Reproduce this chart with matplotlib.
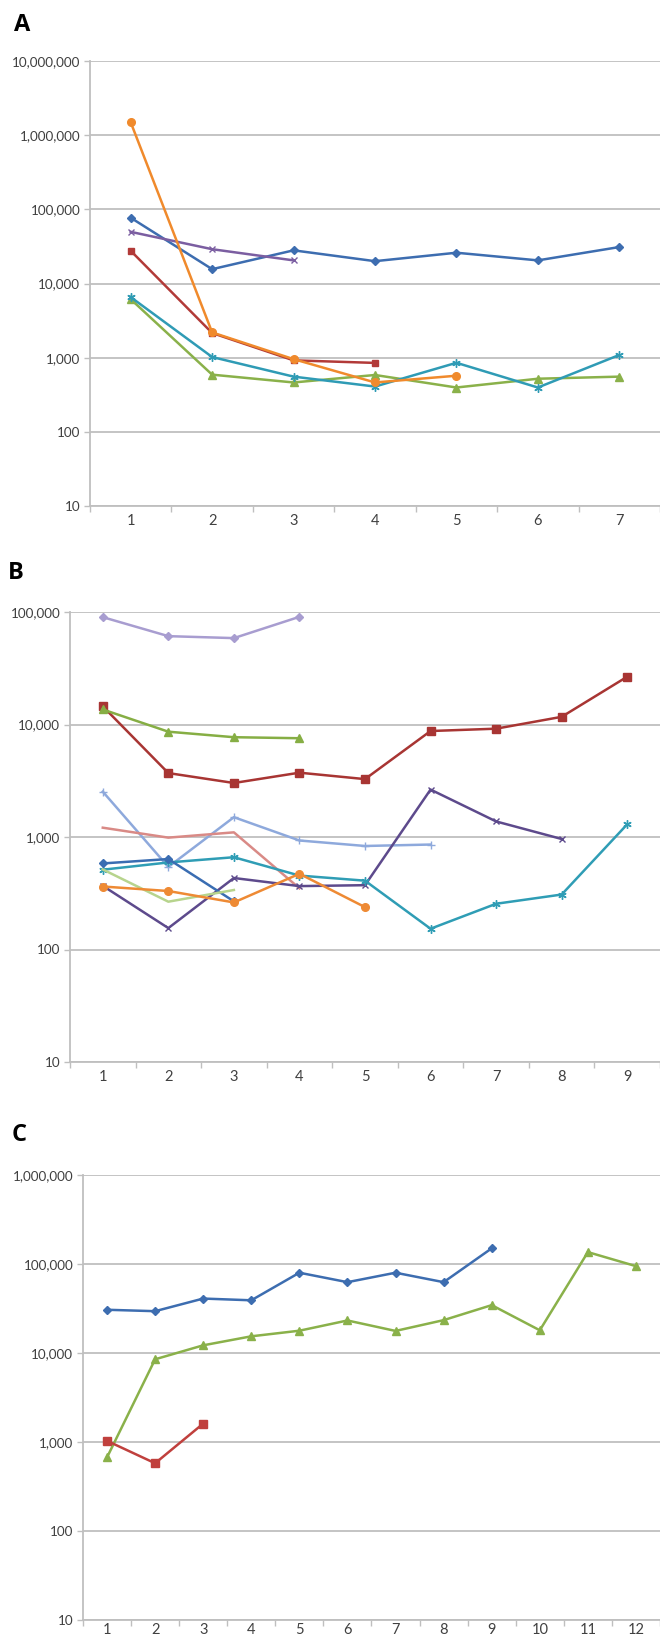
import numpy as np
import matplotlib
matplotlib.use("Agg")
import matplotlib.pyplot as plt
from matplotlib.ticker import FuncFormatter, FixedLocator

plt.rcParams['font.family'] = ['Lato', 'DejaVu Sans']

# ---- panel A data ----
a_blue = [77000, 15600, 28000, 20000, 26000, 20500, 31000]
a_purple = [49700, 29000, 20500]
a_red = [27600, 2150, 920, 850]
a_orange = [1490000, 2190, 955, 463, 571]
a_teal = [6550, 1020, 555, 408, 853, 396, 1087]
a_green = [6140, 590, 463, 584, 396, 520, 555]

# ---- panel B data ----
b_lavender = [90000, 61000, 58600, 90600]
b_red = [14500, 3700, 3020, 3730, 3270, 8750, 9180, 11700, 26600]
b_green = [13600, 8630, 7710, 7550]
b_lightblue = [2530, 542, 1500, 931, 832, 857]
b_salmon = [1210, 987, 1100, 350]
b_purple = [368, 155, 432, 366, 373, 2640, 1375, 960]
b_teal = [512, 594, 661, 454, 409, 153, 255, 308, 1297]
b_blue = [582, 637, 268]
b_lightgreen = [515, 266, 338]
b_orange = [363, 331, 262, 471, 238]

# ---- panel C data ----
c_blue = [30600, 29500, 40900, 39100, 79800, 62500, 79800, 62500, 150000]
c_green = [672, 8500, 12200, 15400, 17800, 23200, 17700, 23400, 34500, 18000, 136000, 94600]
c_red = [1030, 577, 1610]

W, H = 660, 1638
fig = plt.figure(figsize=(W / 100, H / 100), dpi=100)

grid_c = '#bfbfbf'
text_c = '#404040'
star = (6, 2, 0)


def make_axes(left, top, bottom, ncat, ymin, ymax, xpad=6):
    ax = fig.add_axes([left / W, 1 - bottom / H, (W - left) / W, (bottom - top) / H])
    ax.set_yscale('log')
    ax.set_ylim(ymin, ymax)
    ax.set_xlim(0.5, ncat + 0.5)
    for s in ['top', 'right']:
        ax.spines[s].set_visible(False)
    for s in ['left', 'bottom']:
        ax.spines[s].set_color(grid_c)
        ax.spines[s].set_linewidth(1.3)
    decades = [10 ** k for k in range(int(np.log10(ymin)), int(np.log10(ymax)) + 1)]
    ax.yaxis.set_major_locator(FixedLocator(decades))
    ax.yaxis.set_minor_locator(FixedLocator([]))
    ax.yaxis.set_major_formatter(FuncFormatter(lambda v, p: f'{int(round(v)):,}'))
    ax.grid(axis='y', color=grid_c, lw=1.3)
    ax.set_axisbelow(True)
    ax.set_xticks(range(1, ncat + 1))
    ax.set_xticks(np.arange(0.5, ncat + 1, 1.0), minor=True)
    ax.tick_params(axis='x', which='major', length=0, pad=xpad, labelsize=10.5, labelcolor=text_c)
    ax.tick_params(axis='x', which='minor', length=4, color=grid_c, width=1)
    ax.tick_params(axis='y', which='major', length=4, color=grid_c, width=1, pad=3,
                   labelsize=9.7, labelcolor=text_c)
    return ax


def series(ax, vals, color, marker=None, ms=5, mew=1.0):
    x = np.arange(1, len(vals) + 1)
    ax.plot(x, vals, color=color, lw=1.8, marker=marker, ms=ms, mew=mew,
            mec=color, mfc=color, clip_on=False, zorder=3)


def panel_label(x, y, s):
    fig.text(x / W, 1 - y / H, s, fontsize=17, fontweight='bold', ha='center', va='center',
             family=['Open Sans', 'DejaVu Sans'])


# Panel A
axA = make_axes(90, 61, 506, 7, 10, 1e7)
series(axA, a_blue, '#3d6db0', 'D', 4.5)
series(axA, a_red, '#b23a38', 's', 5)
series(axA, a_green, '#8ab14a', '^', 5.5)
series(axA, a_purple, '#7b5ea1', 'x', 5)
series(axA, a_teal, '#2f9bb5', star, 6)
series(axA, a_orange, '#f08a2c', 'o', 5.5)
panel_label(22, 25, 'A')

# Panel B
axB = make_axes(70, 612, 1062, 9, 10, 1e5)
series(axB, b_lavender, '#a89dd0', 'D', 4.5)
series(axB, b_red, '#a83533', 's', 5.5)
series(axB, b_green, '#86ae44', '^', 5.5)
series(axB, b_lightblue, '#8ea9dc', '+', 6)
series(axB, b_salmon, '#d98a86', None)
series(axB, b_purple, '#5d4a8c', 'x', 5)
series(axB, b_teal, '#2f9db5', star, 6)
series(axB, b_blue, '#3a6db2', 'D', 4.5)
series(axB, b_lightgreen, '#b7d48d', None)
series(axB, b_orange, '#ee8a34', 'o', 5.5)
panel_label(16, 573, 'B')

# Panel C
axC = make_axes(83, 1175, 1620, 12, 10, 1e6, xpad=2)
series(axC, c_blue, '#3d6db0', 'D', 4.5)
series(axC, c_green, '#8ab14a', '^', 5.5)
series(axC, c_red, '#c0403d', 's', 5.5)
panel_label(19, 1135, 'C')

fig.savefig('out.png', dpi=100)
